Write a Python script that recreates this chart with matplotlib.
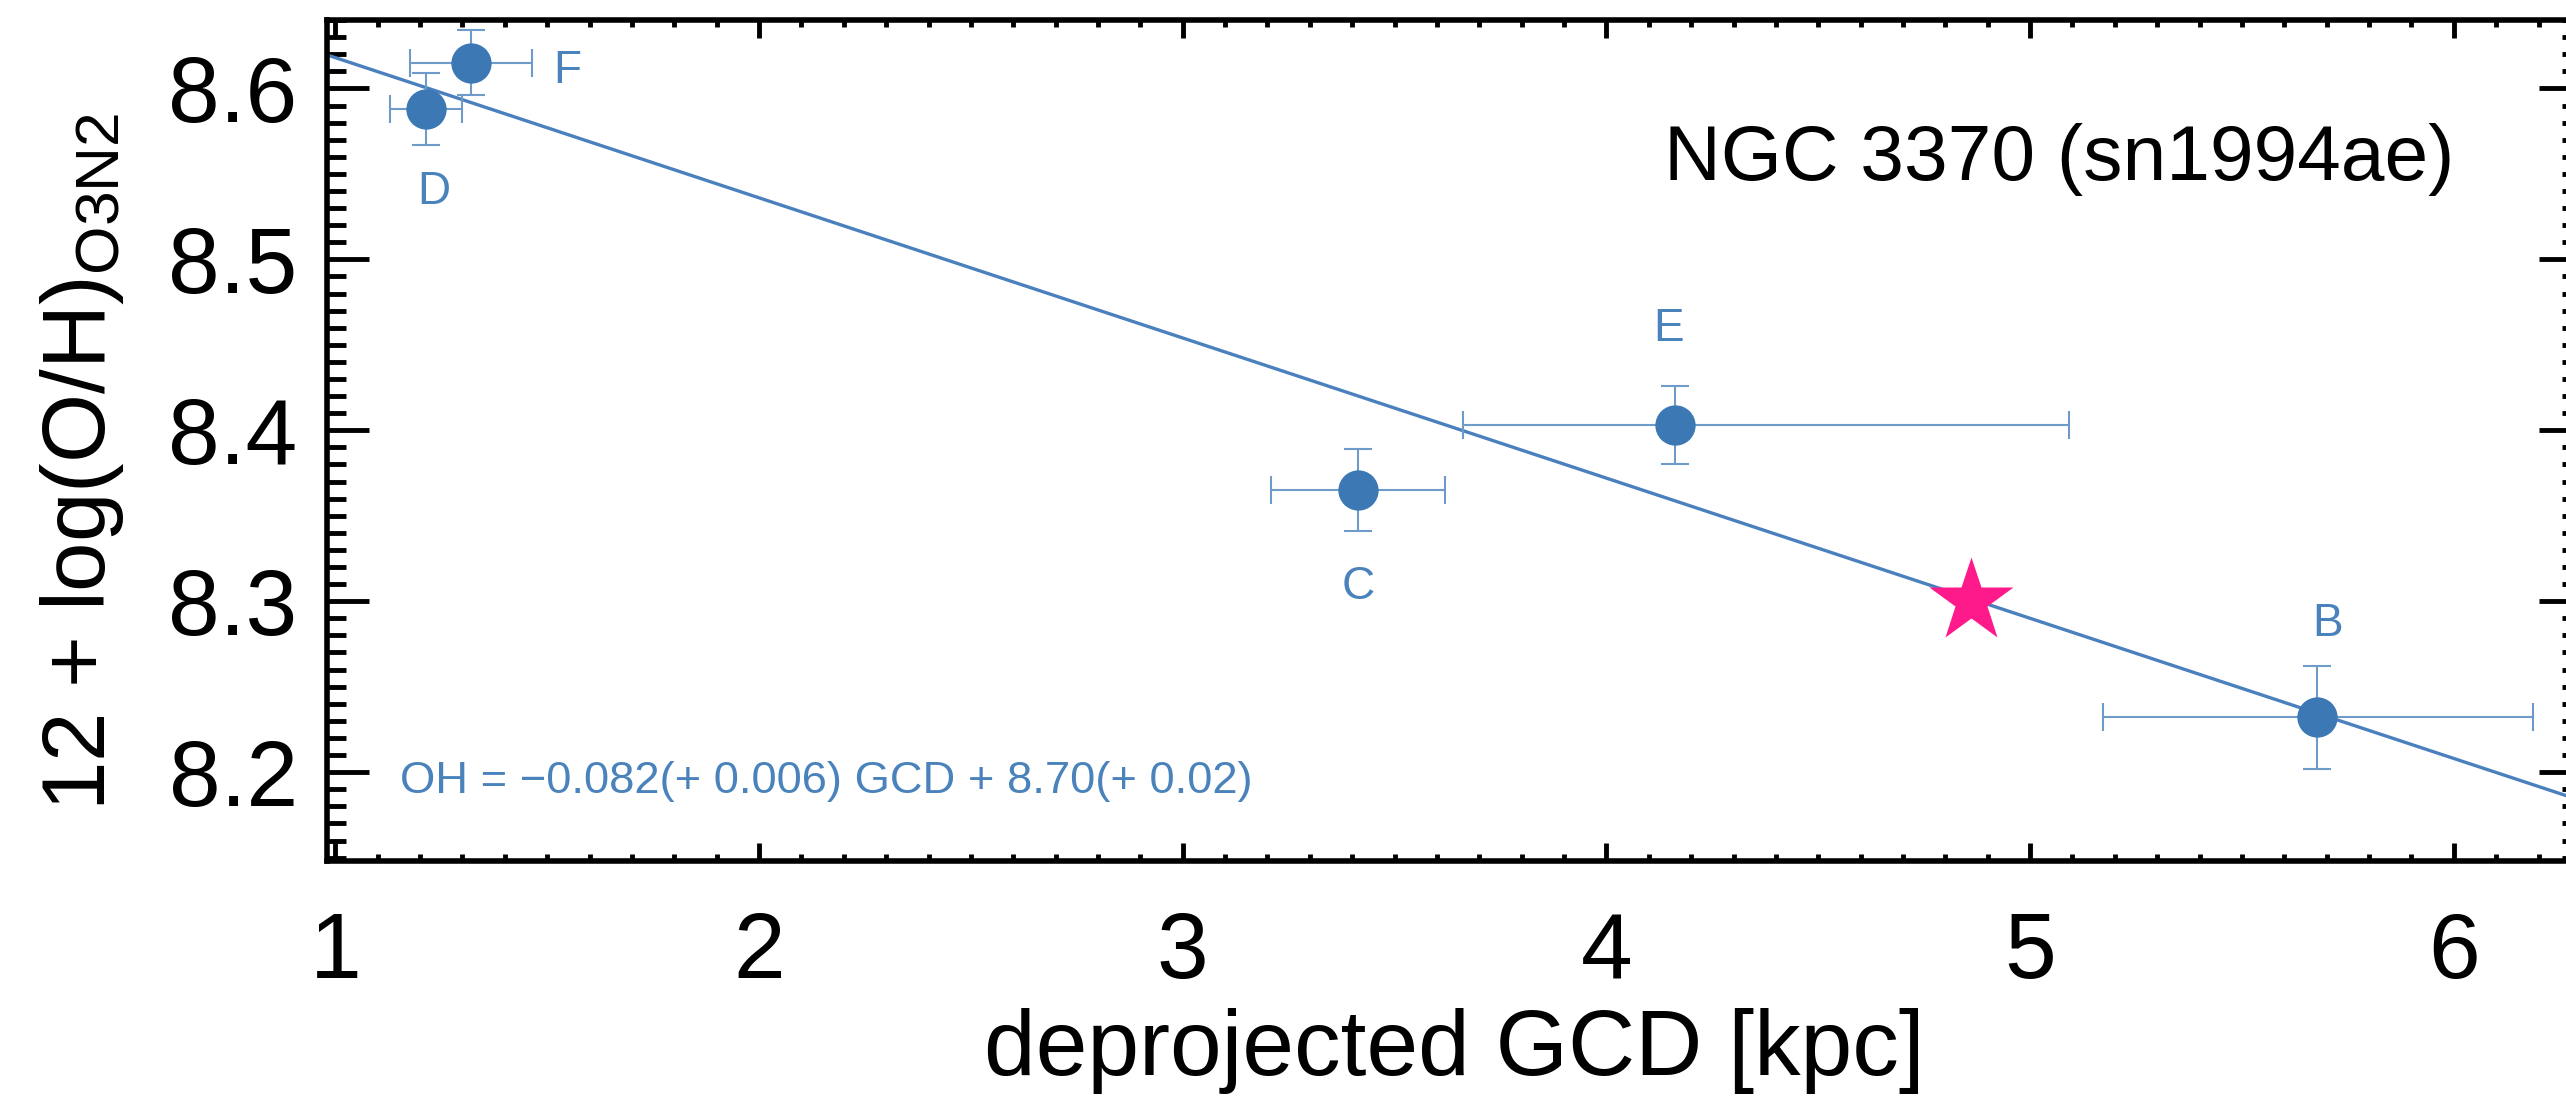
import numpy as np
import matplotlib
matplotlib.use("Agg")
import matplotlib.pyplot as plt
from matplotlib.ticker import MultipleLocator, FormatStrFormatter

plt.rcParams["font.family"] = ["Liberation Sans", "DejaVu Sans"]
plt.rcParams["mathtext.fontset"] = "custom"
plt.rcParams["mathtext.rm"] = "Liberation Sans"
plt.rcParams["mathtext.it"] = "Liberation Sans:italic"

# HII regions: deprojected galactocentric distance and O3N2 abundance
region_names = ["B", "C", "D", "E", "F"]
gcd = [5.678, 3.414, 1.213, 4.162, 1.320]
gcd_err_lo = [0.505, 0.205, 0.085, 0.50, 0.145]
gcd_err_hi = [0.510, 0.205, 0.085, 0.93, 0.145]
oh = [8.232, 8.365, 8.588, 8.403, 8.615]
oh_err = [0.030, 0.024, 0.021, 0.023, 0.019]

# supernova position
sn_gcd = [4.86]
sn_oh = [8.30]

# linear gradient fit
slope, slope_err = -0.082, 0.006
icpt, icpt_err = 8.70, 0.02

pt_color = "#3b78b4"
txt_color = "#4a82bc"
err_color = "#6f9bca"

fig = plt.figure(figsize=(25.66, 10.96), dpi=100)
ax = fig.add_axes([0.1274, 0.2144, 0.8784, 0.7673])

xlim = (0.98, 6.30)
ax.set_xlim(*xlim)
ax.set_ylim(8.148, 8.640)

xx = np.array(xlim)
ax.plot(xx, icpt + slope * xx, color="#4a80bd", lw=2.4, zorder=2)

ax.errorbar(gcd, oh, xerr=[gcd_err_lo, gcd_err_hi], yerr=oh_err,
            fmt="none", ecolor=err_color, elinewidth=1.5, capsize=10,
            capthick=1.5, zorder=3)
ax.plot(gcd, oh, "o", ms=29, color=pt_color, mec="none", zorder=4)

ax.plot(sn_gcd, sn_oh, "*", ms=64, color="#ff1a8c", mec="none", zorder=5)

# region labels, offsets in points
offsets = {"B": (7, 67), "C": (0, -70), "D": (6, -60), "E": (-5, 69), "F": (69, -6)}
for name, x, y in zip(region_names, gcd, oh):
    ax.annotate(name, (x, y), xytext=offsets[name], textcoords="offset points",
                ha="center", va="center", fontsize=33, color=txt_color)

eq = ("OH = \u2212%.3f(+ %.3f) GCD + %.2f(+ %.2f)"
      % (-slope, slope_err, icpt, icpt_err))
ax.text(0.0324, 0.081, eq, transform=ax.transAxes, fontsize=32.7,
        color=txt_color, ha="left", va="baseline")

ax.text(0.9437, 0.8098, "NGC 3370 (sn1994ae)", transform=ax.transAxes,
        fontsize=56.5, color="black", ha="right", va="baseline")

ax.xaxis.set_major_locator(MultipleLocator(1))
ax.xaxis.set_minor_locator(MultipleLocator(0.1))
ax.yaxis.set_major_locator(MultipleLocator(0.1))
ax.yaxis.set_minor_locator(MultipleLocator(0.01))
ax.yaxis.set_major_formatter(FormatStrFormatter("%.1f"))

ax.tick_params(which="both", direction="in", top=True, right=True, width=3.5,
               labelsize=67)
ax.tick_params(axis="x", which="major", length=13, pad=36)
ax.tick_params(axis="x", which="minor", length=5)
ax.tick_params(axis="y", which="major", length=30, pad=21)
ax.tick_params(axis="y", which="minor", length=14)
for sp in ax.spines.values():
    sp.set_linewidth(4)

ax.set_xlabel("deprojected GCD [kpc]", fontsize=67, labelpad=8)
ax.set_ylabel(r"12 + log(O/H)$_{\mathrm{O3N2}}$", fontsize=64)
ax.yaxis.set_label_coords(-0.089, 0.475)

fig.savefig("out.png", dpi=100)
